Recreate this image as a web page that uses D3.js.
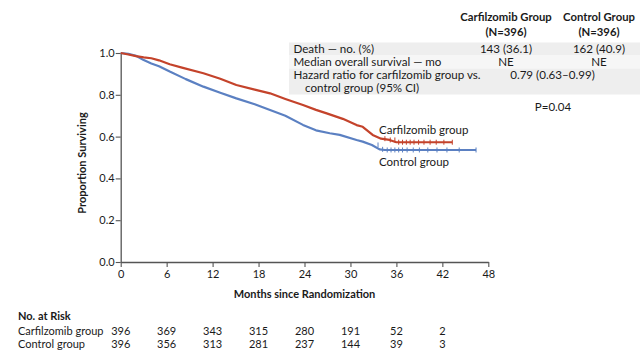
<!DOCTYPE html>
<html><head><meta charset="utf-8">
<script src="https://cdn.jsdelivr.net/npm/d3@7"></script>
<style>
html,body{margin:0;padding:0;background:#fff;}
svg{display:block;font-family:Lato,"Open Sans",sans-serif;}
</style></head>
<body>
<svg id="c" width="640" height="351"></svg>
<script>
// ---- data ----
const carfMonths = [0,1,2,3,4,5,6.4,8,10.8,13,15.1,17.5,19.5,21.5,23.8,25.5,26.9,29,30.8,31.6,32.9,34,35.1,36,43.3];
const carfSurv   = [1.0,0.993,0.985,0.979,0.975,0.965,0.946,0.93,0.903,0.877,0.847,0.825,0.807,0.78,0.751,0.728,0.711,0.685,0.655,0.647,0.608,0.59,0.584,0.573,0.573];
const ctrlMonths = [0,1,2,3,4,5,6.4,8.5,10.8,13,15.1,17.5,19.5,21.5,23.8,25.5,27.3,28.6,30.8,31.6,32.8,33.8,34.5,46.4];
const ctrlSurv   = [1.0,0.996,0.987,0.966,0.95,0.937,0.911,0.875,0.839,0.81,0.783,0.755,0.727,0.70,0.656,0.63,0.616,0.608,0.584,0.576,0.56,0.539,0.536,0.536];
const carfCensor = [34.5,35.2,35.8,36.3,36.8,37.3,37.8,38.3,38.9,39.6,40.4,41.2,42.2,43.3];
const ctrlCensor = [33.6,34.2,34.8,35.3,35.8,36.3,36.8,37.4,38.2,39,40.1,41.3,42.6,44.2,46.4];
const xTicks = [0,6,12,18,24,30,36,42,48];
const yTicks = [0,0.2,0.4,0.6,0.8,1.0];
const riskTimes = [0,6,12,18,24,30,36,42];
const riskCarf = [396,369,343,315,280,191,52,2];
const riskCtrl = [396,356,313,281,237,144,39,3];
const groupNames = ["Carfilzomib group","Control group"];
const tableHeaders = [["Carfilzomib Group","(N=396)"],["Control Group","(N=396)"]];
const tableRows = [
  {label:["Death \u2014 no. (%)"], carf:"143 (36.1)", ctrl:"162 (40.9)"},
  {label:["Median overall survival \u2014 mo"], carf:"NE", ctrl:"NE"},
  {label:["Hazard ratio for carfilzomib group vs.","control group (95% CI)"], both:"0.79 (0.63\u20130.99)"}
];
const pValue = "P=0.04";

// ---- drawing ----
const svg = d3.select("#c");
const RED = "#c4432b", BLUE = "#5b80c2", AX = "#555", TXT = "#1a1a1a";
const x = d3.scaleLinear().domain([0,48]).range([120.7,488.3]);
const y = d3.scaleLinear().domain([0,1]).range([262,53]);

// axes
const yAxis = svg.append("g").attr("transform",`translate(${x(0)},0)`)
  .call(d3.axisLeft(y).tickValues(yTicks).tickFormat(d3.format(".1f")).tickSize(5).tickSizeOuter(0));
const xAxis = svg.append("g").attr("transform",`translate(0,${y(0)})`)
  .call(d3.axisBottom(x).tickValues(xTicks).tickSize(5).tickSizeOuter(0));
[yAxis,xAxis].forEach(g=>{
  g.select(".domain").attr("stroke",AX).attr("stroke-width",1.3);
  g.selectAll(".tick line").attr("stroke",AX).attr("stroke-width",1.1);
  g.selectAll("text").attr("fill",TXT).attr("font-size",11).attr("font-family","Lato,sans-serif");
});
yAxis.selectAll("text").attr("x",-6);
xAxis.selectAll("text").attr("y",8);

// axis titles
svg.append("text").attr("transform","translate(86,163) rotate(-90)")
  .attr("text-anchor","middle").attr("font-weight","bold").attr("font-size",11).attr("fill",TXT)
  .text("Proportion Surviving");
svg.append("text").attr("x",304.5).attr("y",298).attr("text-anchor","middle")
  .attr("font-weight","bold").attr("font-size",11).attr("fill",TXT).text("Months since Randomization");

// curves
const line = d3.line().x(d=>x(d[0])).y(d=>y(d[1]));
const carf = carfMonths.map((m,i)=>[m,carfSurv[i]]);
const ctrl = ctrlMonths.map((m,i)=>[m,ctrlSurv[i]]);
function survAt(series,t){const b=d3.bisector(d=>d[0]).right(series,t);return series[Math.max(0,b-1)][1];}
[[ctrl,BLUE,ctrlCensor],[carf,RED,carfCensor]].forEach(([s,c,cens])=>{
  svg.append("path").datum(s).attr("d",line).attr("fill","none").attr("stroke",c)
    .attr("stroke-width",2.2).attr("stroke-linejoin","round");
  svg.append("g").selectAll("line").data(cens).join("line")
    .attr("x1",d=>x(d)).attr("x2",d=>x(d))
    .attr("y1",d=>y(survAt(s,d))-2.5).attr("y2",d=>y(survAt(s,d))+2.5)
    .attr("stroke",c).attr("stroke-width",1);
});
svg.append("text").attr("x",379).attr("y",133.5).attr("font-size",11.5).attr("fill",TXT).text(groupNames[0]);
svg.append("text").attr("x",379).attr("y",166).attr("font-size",11.5).attr("fill",TXT).text(groupNames[1]);

// table
const colX = [506,599], bothX = 552.5;
tableHeaders.forEach((h,i)=>{
  h.forEach((t,j)=>svg.append("text").attr("x",colX[i]).attr("y",21+j*15).attr("text-anchor","middle")
    .attr("font-weight","bold").attr("font-size",11.3).attr("fill",TXT).text(t));
});
svg.append("rect").attr("x",289).attr("y",42.5).attr("width",351).attr("height",13).attr("fill","#eeeeee");
svg.append("rect").attr("x",289).attr("y",55.5).attr("width",351).attr("height",13).attr("fill","#f6f6f6");
svg.append("rect").attr("x",289).attr("y",68.5).attr("width",351).attr("height",26).attr("fill","#eeeeee");
const rowBase = [53,66,79];
tableRows.forEach((r,i)=>{
  r.label.forEach((t,j)=>svg.append("text").attr("x",j?305:293.5).attr("y",rowBase[i]+j*13.3)
    .attr("font-size",11.6).attr("fill",TXT).text(t));
  if(r.both) svg.append("text").attr("x",bothX).attr("y",rowBase[i]).attr("text-anchor","middle")
    .attr("font-size",11.6).attr("fill",TXT).text(r.both);
  else [r.carf,r.ctrl].forEach((t,k)=>svg.append("text").attr("x",colX[k]).attr("y",rowBase[i])
    .attr("text-anchor","middle").attr("font-size",11.6).attr("fill",TXT).text(t));
});
svg.append("text").attr("x",553).attr("y",110.5).attr("text-anchor","middle").attr("font-size",11.5)
  .attr("fill",TXT).text(pValue);

// numbers at risk
svg.append("text").attr("x",18).attr("y",320).attr("font-weight","bold").attr("font-size",11)
  .attr("fill",TXT).text("No. at Risk");
[[riskCarf,334.5],[riskCtrl,347.5]].forEach(([vals,yy],i)=>{
  svg.append("text").attr("x",18).attr("y",yy).attr("font-size",11).attr("fill",TXT).text(groupNames[i]);
  svg.append("g").selectAll("text").data(vals).join("text")
    .attr("x",(d,k)=>x(riskTimes[k])).attr("y",yy).attr("text-anchor","middle")
    .attr("font-size",11).attr("fill",TXT).text(d=>d);
});
</script>
</body></html>
